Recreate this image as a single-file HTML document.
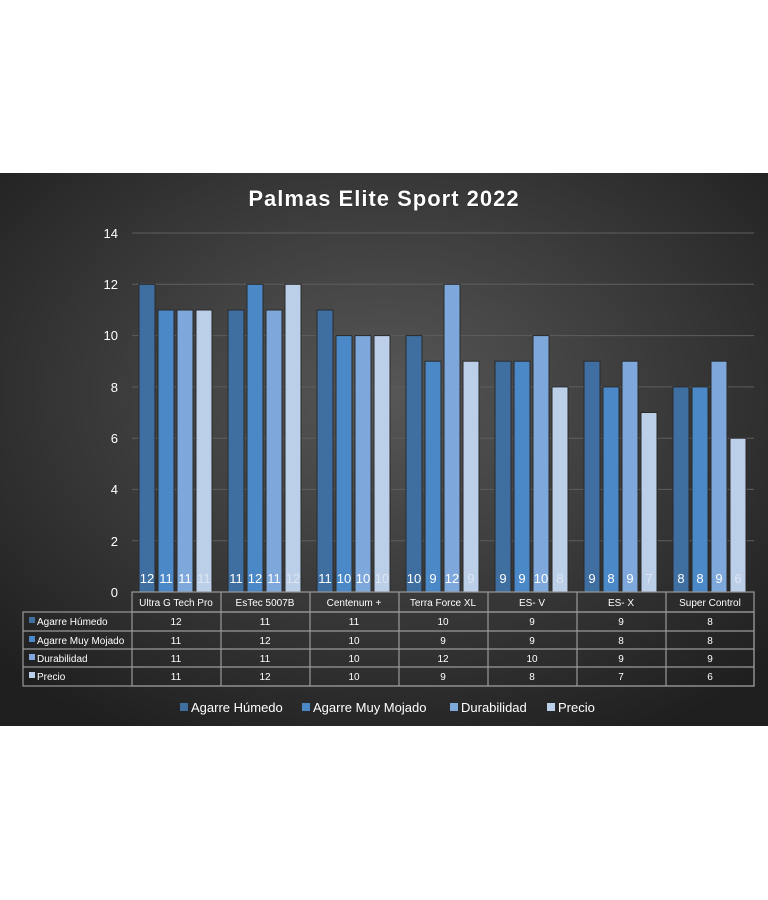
<!DOCTYPE html>
<html><head><meta charset="utf-8"><style>
html,body{margin:0;padding:0;background:#fff;width:768px;height:900px;overflow:hidden}
svg{display:block;font-family:"Liberation Sans",sans-serif}
</style></head><body>
<svg width="768" height="900" viewBox="0 0 768 900">
<defs>
<radialGradient id="bg" cx="50%" cy="40%" r="70%">
<stop offset="0" stop-color="#575757"/><stop offset="1" stop-color="#1f1f1f"/>
</radialGradient>
</defs>
<rect x="0" y="173" width="768" height="553" fill="url(#bg)"/>
<text x="384" y="206" text-anchor="middle" font-size="22" font-weight="bold" fill="#fff" letter-spacing="1" stroke="#111" stroke-width="0.6" paint-order="stroke">Palmas Elite Sport 2022</text>
<g stroke="#5e5e5e" stroke-width="1">
<line x1="132" y1="233" x2="754" y2="233"/><line x1="132" y1="284.3" x2="754" y2="284.3"/>
<line x1="132" y1="335.6" x2="754" y2="335.6"/><line x1="132" y1="386.9" x2="754" y2="386.9"/>
<line x1="132" y1="438.2" x2="754" y2="438.2"/><line x1="132" y1="489.4" x2="754" y2="489.4"/>
<line x1="132" y1="540.7" x2="754" y2="540.7"/>
</g>
<g fill="#fff" font-size="13" text-anchor="end">
<text x="118" y="238">14</text><text x="118" y="289">12</text><text x="118" y="340">10</text>
<text x="118" y="392">8</text><text x="118" y="443">6</text><text x="118" y="494">4</text>
<text x="118" y="546">2</text><text x="118" y="597">0</text>
</g>
<g stroke="#2a2a2a" stroke-width="1">
<g fill="#3f6fa0">
<rect x="139" y="284.3" width="16" height="307.7"/><rect x="228" y="310" width="16" height="282"/>
<rect x="317" y="310" width="16" height="282"/><rect x="406" y="335.6" width="16" height="256.4"/>
<rect x="495" y="361.2" width="16" height="230.8"/><rect x="584" y="361.2" width="16" height="230.8"/>
<rect x="673" y="386.9" width="16" height="205.1"/>
</g>
<g fill="#4a88c8">
<rect x="158" y="310" width="16" height="282"/><rect x="247" y="284.3" width="16" height="307.7"/>
<rect x="336" y="335.6" width="16" height="256.4"/><rect x="425" y="361.2" width="16" height="230.8"/>
<rect x="514" y="361.2" width="16" height="230.8"/><rect x="603" y="386.9" width="16" height="205.1"/>
<rect x="692" y="386.9" width="16" height="205.1"/>
</g>
<g fill="#7ea8db">
<rect x="177" y="310" width="16" height="282"/><rect x="266" y="310" width="16" height="282"/>
<rect x="355" y="335.6" width="16" height="256.4"/><rect x="444" y="284.3" width="16" height="307.7"/>
<rect x="533" y="335.6" width="16" height="256.4"/><rect x="622" y="361.2" width="16" height="230.8"/>
<rect x="711" y="361.2" width="16" height="230.8"/>
</g>
<g fill="#bccfe8">
<rect x="196" y="310" width="16" height="282"/><rect x="285" y="284.3" width="16" height="307.7"/>
<rect x="374" y="335.6" width="16" height="256.4"/><rect x="463" y="361.2" width="16" height="230.8"/>
<rect x="552" y="386.9" width="16" height="205.1"/><rect x="641" y="412.5" width="16" height="179.5"/>
<rect x="730" y="438.2" width="16" height="153.8"/>
</g>
</g>
<g fill="#fff" font-size="13" text-anchor="middle">
<text x="147" y="583">12</text><text x="166" y="583">11</text><text x="185" y="583">11</text><text x="204" y="583" fill="#dde6f2">11</text>
<text x="236" y="583">11</text><text x="255" y="583">12</text><text x="274" y="583">11</text><text x="293" y="583" fill="#dde6f2">12</text>
<text x="325" y="583">11</text><text x="344" y="583">10</text><text x="363" y="583">10</text><text x="382" y="583" fill="#dde6f2">10</text>
<text x="414" y="583">10</text><text x="433" y="583">9</text><text x="452" y="583">12</text><text x="471" y="583" fill="#dde6f2">9</text>
<text x="503" y="583">9</text><text x="522" y="583">9</text><text x="541" y="583">10</text><text x="560" y="583" fill="#dde6f2">8</text>
<text x="592" y="583">9</text><text x="611" y="583">8</text><text x="630" y="583">9</text><text x="649" y="583" fill="#dde6f2">7</text>
<text x="681" y="583">8</text><text x="700" y="583">8</text><text x="719" y="583">9</text><text x="738" y="583" fill="#dde6f2">6</text>
</g>
<!-- table -->
<g stroke="#9a9a9a" stroke-width="1.2" fill="none">
<rect x="132" y="592" width="622" height="94"/>
<rect x="23" y="612" width="731" height="74"/>
<line x1="132" y1="612" x2="754" y2="612"/>
<line x1="23" y1="631" x2="754" y2="631"/><line x1="23" y1="649" x2="754" y2="649"/><line x1="23" y1="667" x2="754" y2="667"/>
<line x1="221" y1="592" x2="221" y2="686"/><line x1="310" y1="592" x2="310" y2="686"/><line x1="399" y1="592" x2="399" y2="686"/>
<line x1="488" y1="592" x2="488" y2="686"/><line x1="577" y1="592" x2="577" y2="686"/><line x1="666" y1="592" x2="666" y2="686"/>
</g>
<g fill="#fff" font-size="10" text-anchor="middle">
<text x="176" y="606">Ultra G Tech Pro</text><text x="265" y="606">EsTec 5007B</text><text x="354" y="606">Centenum +</text>
<text x="443" y="606">Terra Force XL</text><text x="532" y="606">ES- V</text><text x="621" y="606">ES- X</text><text x="710" y="606">Super Control</text>
<text x="176" y="625">12</text><text x="265" y="625">11</text><text x="354" y="625">11</text><text x="443" y="625">10</text><text x="532" y="625">9</text><text x="621" y="625">9</text><text x="710" y="625">8</text>
<text x="176" y="644">11</text><text x="265" y="644">12</text><text x="354" y="644">10</text><text x="443" y="644">9</text><text x="532" y="644">9</text><text x="621" y="644">8</text><text x="710" y="644">8</text>
<text x="176" y="662">11</text><text x="265" y="662">11</text><text x="354" y="662">10</text><text x="443" y="662">12</text><text x="532" y="662">10</text><text x="621" y="662">9</text><text x="710" y="662">9</text>
<text x="176" y="680">11</text><text x="265" y="680">12</text><text x="354" y="680">10</text><text x="443" y="680">9</text><text x="532" y="680">8</text><text x="621" y="680">7</text><text x="710" y="680">6</text>
</g>
<rect x="29" y="617" width="6" height="6" fill="#3f6fa0"/><rect x="29" y="636" width="6" height="6" fill="#4a88c8"/>
<rect x="29" y="654" width="6" height="6" fill="#7ea8db"/><rect x="29" y="672" width="6" height="6" fill="#bccfe8"/>
<g fill="#fff" font-size="10">
<text x="37" y="625">Agarre Húmedo</text><text x="37" y="644">Agarre Muy Mojado</text>
<text x="37" y="662">Durabilidad</text><text x="37" y="680">Precio</text>
</g>
<!-- legend -->
<rect x="180" y="703" width="8" height="8" fill="#3f6fa0"/>
<rect x="302" y="703" width="8" height="8" fill="#4a88c8"/>
<rect x="450" y="703" width="8" height="8" fill="#7ea8db"/>
<rect x="547" y="703" width="8" height="8" fill="#bccfe8"/>
<g fill="#fff" font-size="13">
<text x="191" y="712">Agarre Húmedo</text><text x="313" y="712">Agarre Muy Mojado</text>
<text x="461" y="712">Durabilidad</text><text x="558" y="712">Precio</text>
</g>
</svg>
</body></html>
